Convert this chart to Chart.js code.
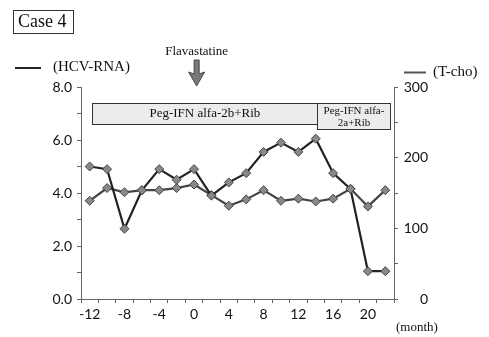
<!DOCTYPE html>
<html><head><meta charset="utf-8">
<script src="https://cdn.jsdelivr.net/npm/chart.js@4.4.0/dist/chart.umd.min.js"></script>
<style>html,body{margin:0;padding:0;background:#fff;}canvas{display:block}</style>
</head><body>
<canvas id="c" width="489" height="337"></canvas>
<script>
// ---- data ----
const months = [-12,-10,-8,-6,-4,-2,0,2,4,6,8,10,12,14,16,18,20,22];
const hcvRna = [5.0,4.9,2.65,4.1,4.9,4.5,4.9,3.9,4.4,4.75,5.55,5.9,5.55,6.05,4.75,4.15,1.05,1.05];
const tCho   = [139,157,151,154,154,157,162,147,132,141,154,139,142,138,142,156,131,154];
const xTickLabels = [-12,-8,-4,0,4,8,12,16,20];
const leftTicks = [0,2,4,6,8];
const rightTicks = [0,100,200,300];
const treatmentLabels = [["Peg-IFN alfa-2b+Rib"],["Peg-IFN alfa-","2a+Rib"]];
const treatmentStart = [-11.7, 14.2];
const treatmentEnd   = [14.2, 22.6];
const eventLabel = "Flavastatine";
const eventMonth = 0.3;

const serif = '"Liberation Serif","DejaVu Serif",serif';
const sans = 'Lato, "Liberation Sans", sans-serif';
const idx = m => (m - months[0]) / 2;

const annot = {
  id: 'annot',
  afterDraw(chart) {
    const c = chart.ctx, xs = chart.scales.x;
    c.save();
    // Case 4 box
    c.strokeStyle = '#333'; c.lineWidth = 1;
    c.strokeRect(13.5, 10.5, 60, 23);
    c.fillStyle = '#111'; c.font = '18px ' + serif; c.textBaseline = 'middle'; c.textAlign = 'left';
    c.fillText('Case 4', 18, 22.5);
    // legends
    c.strokeStyle = '#222'; c.lineWidth = 2;
    c.beginPath(); c.moveTo(15, 68); c.lineTo(41, 68); c.stroke();
    c.font = '15px ' + serif; c.fillText('(HCV-RNA)', 53, 67);
    c.strokeStyle = '#555'; c.lineWidth = 2;
    c.beginPath(); c.moveTo(404, 72.5); c.lineTo(426, 72.5); c.stroke();
    c.fillText('(T-cho)', 433, 72);
    // event arrow
    const ax = xs.getPixelForValue(idx(eventMonth));
    c.font = '13px ' + serif; c.textAlign = 'center';
    c.fillText(eventLabel, ax, 52);
    c.fillStyle = '#7a7a7a'; c.strokeStyle = '#444'; c.lineWidth = 1;
    c.beginPath();
    c.moveTo(ax - 2.5, 60); c.lineTo(ax + 2.5, 60); c.lineTo(ax + 2.5, 74);
    c.lineTo(ax + 8, 72); c.lineTo(ax, 86); c.lineTo(ax - 8, 72); c.lineTo(ax - 2.5, 74);
    c.closePath(); c.fill(); c.stroke();
    // treatment boxes
    const tops = [103, 103], bots = [124, 129];
    treatmentLabels.forEach((lab, i) => {
      const x0 = xs.getPixelForValue(idx(treatmentStart[i]));
      const x1 = xs.getPixelForValue(idx(treatmentEnd[i]));
      c.fillStyle = '#ececec';
      c.fillRect(x0, tops[i], x1 - x0, bots[i] - tops[i]);
      c.strokeStyle = '#333'; c.lineWidth = 1;
      c.strokeRect(Math.round(x0) + 0.5, tops[i] + 0.5, Math.round(x1 - x0), bots[i] - tops[i]);
      c.fillStyle = '#111'; c.textAlign = 'center';
      const cx = (x0 + x1) / 2;
      if (lab.length === 1) {
        c.font = '13px ' + serif; c.fillText(lab[0], cx, (tops[i] + bots[i]) / 2 + 0.5);
      } else {
        c.font = '11px ' + serif;
        c.fillText(lab[0], cx, tops[i] + 8);
        c.fillText(lab[1], cx, tops[i] + 20);
      }
    });
    // (month)
    c.font = '13px ' + serif; c.textAlign = 'left';
    c.fillText('(month)', 396, 328);
    c.restore();
  }
};

const pointCommon = {
  pointStyle: 'rectRot', pointRadius: 4.5, pointBackgroundColor: '#888',
  pointBorderColor: '#444', pointBorderWidth: 1, tension: 0, fill: false
};

new Chart(document.getElementById('c').getContext('2d'), {
  type: 'line',
  data: {
    labels: months.map(String),
    datasets: [
      Object.assign({ label: '(HCV-RNA)', data: hcvRna, yAxisID: 'y', borderColor: '#222', borderWidth: 2.2 }, pointCommon),
      Object.assign({ label: '(T-cho)', data: tCho, yAxisID: 'y1', borderColor: '#444', borderWidth: 2.2 }, pointCommon)
    ]
  },
  options: {
    responsive: false, animation: false, events: [],
    layout: { padding: { top: 87, left: 0, right: 61, bottom: 0 } },
    plugins: { legend: { display: false }, tooltip: { enabled: false }, title: { display: false } },
    scales: {
      x: {
        type: 'category', offset: true,
        grid: { offset: true, drawOnChartArea: false, drawTicks: true, tickLength: 4, color: '#666' },
        border: { color: '#666', width: 1 },
        ticks: {
          autoSkip: false, maxRotation: 0, minRotation: 0, padding: 3,
          font: { family: sans, size: 14 }, color: '#111',
          callback: (v, i) => xTickLabels.includes(months[i]) ? String(months[i]) : ''
        },
        afterFit: s => { s.height = 38; }
      },
      y: {
        position: 'left', min: 0, max: 8,
        grid: { drawOnChartArea: false, tickLength: 4, color: '#666' },
        border: { color: '#666', width: 1 },
        ticks: {
          stepSize: 1, padding: 5, font: { family: sans, size: 14 }, color: '#111',
          callback: v => leftTicks.includes(v) ? v.toFixed(1) : ''
        },
        afterFit: s => { s.width = 81; }
      },
      y1: {
        position: 'right', min: 0, max: 300,
        grid: { drawOnChartArea: false, tickLength: 4, color: '#666' },
        border: { color: '#666', width: 1 },
        ticks: {
          stepSize: 50, padding: 6, crossAlign: 'far', font: { family: sans, size: 14 }, color: '#111',
          callback: v => rightTicks.includes(v) ? String(v) : ''
        },
        afterFit: s => { s.width = 34; }
      }
    }
  },
  plugins: [annot]
});
</script>
</body></html>
